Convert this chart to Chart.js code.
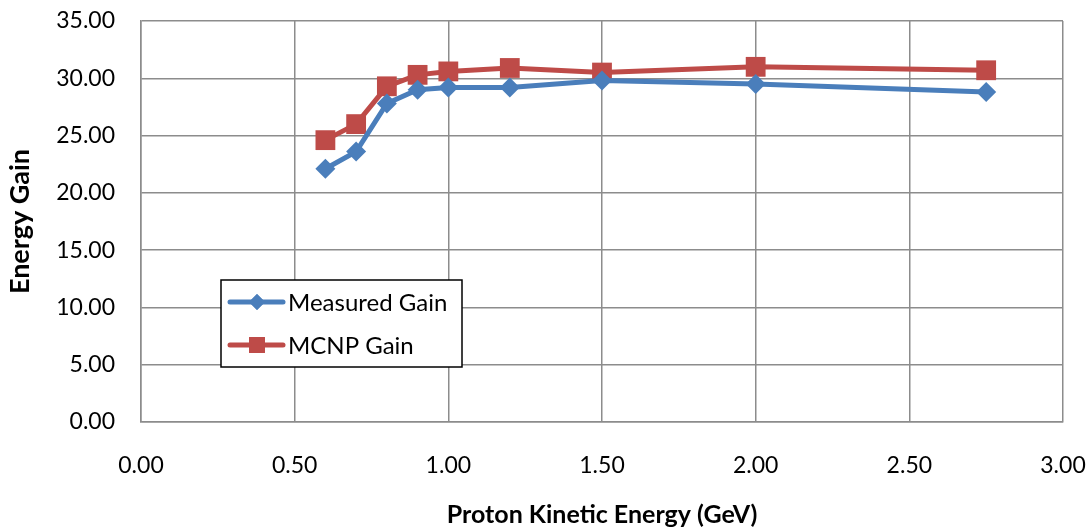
<!DOCTYPE html>
<html>
<head>
<meta charset="utf-8">
<script src="https://cdn.jsdelivr.net/npm/chart.js@4.4.0/dist/chart.umd.min.js"></script>
<style>
  html, body { margin: 0; padding: 0; background: #fff; }
  #wrap { width: 1091px; height: 531px; }
</style>
</head>
<body>
<div id="wrap"><canvas id="gainChart" width="1091" height="531"></canvas></div>
<script>
const protonEnergy = [0.6, 0.7, 0.8, 0.9, 1.0, 1.2, 1.5, 2.0, 2.75]
const measuredGain = [22.1, 23.6, 27.8, 29.0, 29.2, 29.2, 29.8, 29.5, 28.8]
const mcnpGain = [24.6, 26.0, 29.3, 30.3, 30.6, 30.9, 30.5, 31.0, 30.7]
const seriesNames = ['Measured Gain', 'MCNP Gain']

const blue = '#4a7ebb'
const red = '#be4b48'
const gridGray = '#8c8c8c'
const font = 'Lato, "Open Sans", sans-serif'

const toPoints = (ys) => protonEnergy.map((x, i) => ({ x: x, y: ys[i] }))

// legend box sits inside the plot, Excel style
const boxLegend = {
  id: 'boxLegend',
  afterDraw(chart) {
    const ctx = chart.ctx
    const area = chart.chartArea
    const left = area.left + 80
    const top = area.top + 259
    const w = 241, h = 87
    ctx.save()
    ctx.fillStyle = '#fff'
    ctx.fillRect(left, top, w, h)
    ctx.strokeStyle = '#000'
    ctx.lineWidth = 1.5
    ctx.strokeRect(left, top, w, h)
    chart.data.datasets.forEach((ds, i) => {
      const y = top + 22 + i * 43
      ctx.strokeStyle = ds.borderColor
      ctx.lineWidth = 5
      ctx.lineCap = 'round'
      ctx.beginPath()
      ctx.moveTo(left + 9, y)
      ctx.lineTo(left + 62, y)
      ctx.stroke()
      ctx.fillStyle = ds.borderColor
      Chart.helpers.drawPoint(ctx, {
        pointStyle: ds.pointStyle,
        radius: ds.pointRadius * 0.8,
        rotation: 0,
        borderWidth: 0
      }, left + 36, y)
      ctx.fill()
      ctx.fillStyle = '#000'
      ctx.font = '24px ' + font
      ctx.textBaseline = 'middle'
      ctx.fillText(ds.label, left + 67, y + 1)
    })
    ctx.restore()
  }
}

const config = {
  type: 'line',
  data: {
    datasets: [
      {
        label: seriesNames[0],
        data: toPoints(measuredGain),
        borderColor: blue,
        backgroundColor: blue,
        borderWidth: 5,
        pointStyle: 'rectRot',
        pointRadius: 10,
        pointHoverRadius: 10,
        pointBorderWidth: 0
      },
      {
        label: seriesNames[1],
        data: toPoints(mcnpGain),
        borderColor: red,
        backgroundColor: red,
        borderWidth: 5,
        pointStyle: 'rect',
        pointRadius: 14,
        pointHoverRadius: 14,
        pointBorderWidth: 0
      }
    ]
  },
  options: {
    responsive: false,
    animation: false,
    clip: false,
    layout: { padding: { top: 21, right: 28, left: 0, bottom: 0 } },
    plugins: {
      legend: { display: false },
      tooltip: { enabled: false }
    },
    scales: {
      x: {
        type: 'linear',
        min: 0,
        max: 3,
        ticks: {
          stepSize: 0.5,
          padding: 30,
          color: '#000',
          font: { family: font, size: 23 },
          callback: (v) => v.toFixed(2)
        },
        grid: { color: gridGray, lineWidth: 1.5, drawTicks: false },
        border: { color: gridGray, width: 1.5 },
        title: {
          display: true,
          text: 'Proton Kinetic Energy (GeV)',
          color: '#000',
          font: { family: font, size: 25, weight: 'bold' },
          padding: { top: 0, bottom: 1 }
        },
        afterFit(scale) {
          scale.height = 109
          scale.paddingLeft = 0
          scale.paddingRight = 0
        }
      },
      y: {
        min: 0,
        max: 35,
        ticks: {
          stepSize: 5,
          padding: 26,
          color: '#000',
          font: { family: font, size: 23 },
          callback: (v) => v.toFixed(2)
        },
        grid: { color: gridGray, lineWidth: 1.5, drawTicks: false },
        border: { color: gridGray, width: 1.5 },
        title: {
          display: true,
          text: 'Energy Gain',
          color: '#000',
          font: { family: font, size: 27, weight: 'bold' },
          padding: { top: 4, bottom: 0 }
        },
        afterFit(scale) {
          scale.width = 141
          scale.paddingTop = 0
          scale.paddingBottom = 0
        }
      }
    }
  },
  plugins: [boxLegend]
}

const gainChart = new Chart(document.getElementById('gainChart'), config)
</script>
</body>
</html>
